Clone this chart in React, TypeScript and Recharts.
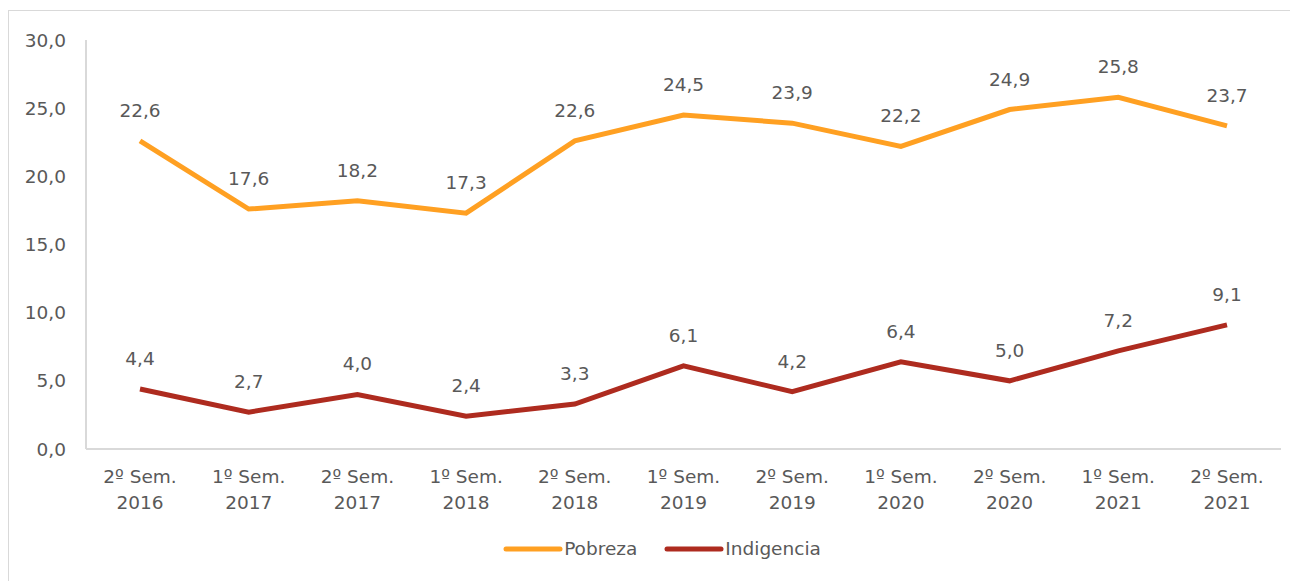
import React from "react";
import { LineChart, Line, XAxis, YAxis, LabelList, Legend } from "recharts";

const categories = [
  "2º Sem.|2016", "1º Sem.|2017", "2º Sem.|2017", "1º Sem.|2018", "2º Sem.|2018",
  "1º Sem.|2019", "2º Sem.|2019", "1º Sem.|2020", "2º Sem.|2020", "1º Sem.|2021", "2º Sem.|2021",
];
const pobreza = [22.6, 17.6, 18.2, 17.3, 22.6, 24.5, 23.9, 22.2, 24.9, 25.8, 23.7];
const indigencia = [4.4, 2.7, 4.0, 2.4, 3.3, 6.1, 4.2, 6.4, 5.0, 7.2, 9.1];
const yTicks = [0, 5, 10, 15, 20, 25, 30];

const data = categories.map((c, i) => ({ cat: c, pobreza: pobreza[i], indigencia: indigencia[i] }));

const FONT = "'DejaVu Sans', sans-serif";
const FS = 18.5;
const TXT = "#595959";
const ORANGE = "#FFA022";
const RED = "#AE2B1F";
const fmt = (v: any) => Number(v).toFixed(1).replace(".", ",");

const XTick = (props: any) => {
  const { x, y, payload } = props;
  const [a, b] = String(payload.value).split("|");
  return (
    <text x={x} y={y} textAnchor="middle" fill={TXT} fontSize={FS} fontFamily={FONT}>
      <tspan x={x} dy={26}>{a}</tspan>
      <tspan x={x} dy={26}>{b}</tspan>
    </text>
  );
};

const LegendContent = () => (
  <div style={{ display: "flex", justifyContent: "center", alignItems: "center", fontFamily: FONT, fontSize: FS, color: TXT }}>
    <svg width={60} height={10} style={{ marginRight: 1 }}>
      <line x1={3} y1={5} x2={57} y2={5} stroke={ORANGE} strokeWidth={5} strokeLinecap="round" />
    </svg>
    <span style={{ marginRight: 27 }}>Pobreza</span>
    <svg width={60} height={10} style={{ marginRight: 1 }}>
      <line x1={3} y1={5} x2={57} y2={5} stroke={RED} strokeWidth={5} strokeLinecap="round" />
    </svg>
    <span>Indigencia</span>
  </div>
);

export default function App() {
  return (
    <div style={{ marginTop: 2, width: 1300, height: 580, border: "1px solid #d9d9d9", boxSizing: "border-box", background: "#fff" }}>
      <LineChart
        width={1289}
        height={570}
        data={data}
        margin={{ top: 29, right: 17, left: 0, bottom: 62 }}
      >
        <XAxis
          dataKey="cat"
          interval={0}
          tick={<XTick />}
          tickLine={false}
          axisLine={{ stroke: "#d9d9d9", strokeWidth: 2 }}
          padding={{ left: 54, right: 54 }}
          height={70}
        />
        <YAxis
          domain={[0, 30]}
          ticks={yTicks}
          width={77}
          tickFormatter={fmt}
          tickLine={false}
          tickMargin={14}
          axisLine={{ stroke: "#d9d9d9", strokeWidth: 2 }}
          tick={{ fill: TXT, fontSize: FS, fontFamily: FONT }}
        />
        <Legend
          layout="horizontal"
          verticalAlign="middle"
          align="center"
          content={<LegendContent />}
          wrapperStyle={{ top: 527, left: 0, width: 1306 }}
        />
        <Line type="linear" dataKey="pobreza" stroke={ORANGE} strokeWidth={5} dot={false} isAnimationActive={false}>
          <LabelList dataKey="pobreza" position="top" offset={24} formatter={fmt} fill={TXT} fontSize={FS} fontFamily={FONT} />
        </Line>
        <Line type="linear" dataKey="indigencia" stroke={RED} strokeWidth={5} dot={false} isAnimationActive={false}>
          <LabelList dataKey="indigencia" position="top" offset={24} formatter={fmt} fill={TXT} fontSize={FS} fontFamily={FONT} />
        </Line>
      </LineChart>
    </div>
  );
}
